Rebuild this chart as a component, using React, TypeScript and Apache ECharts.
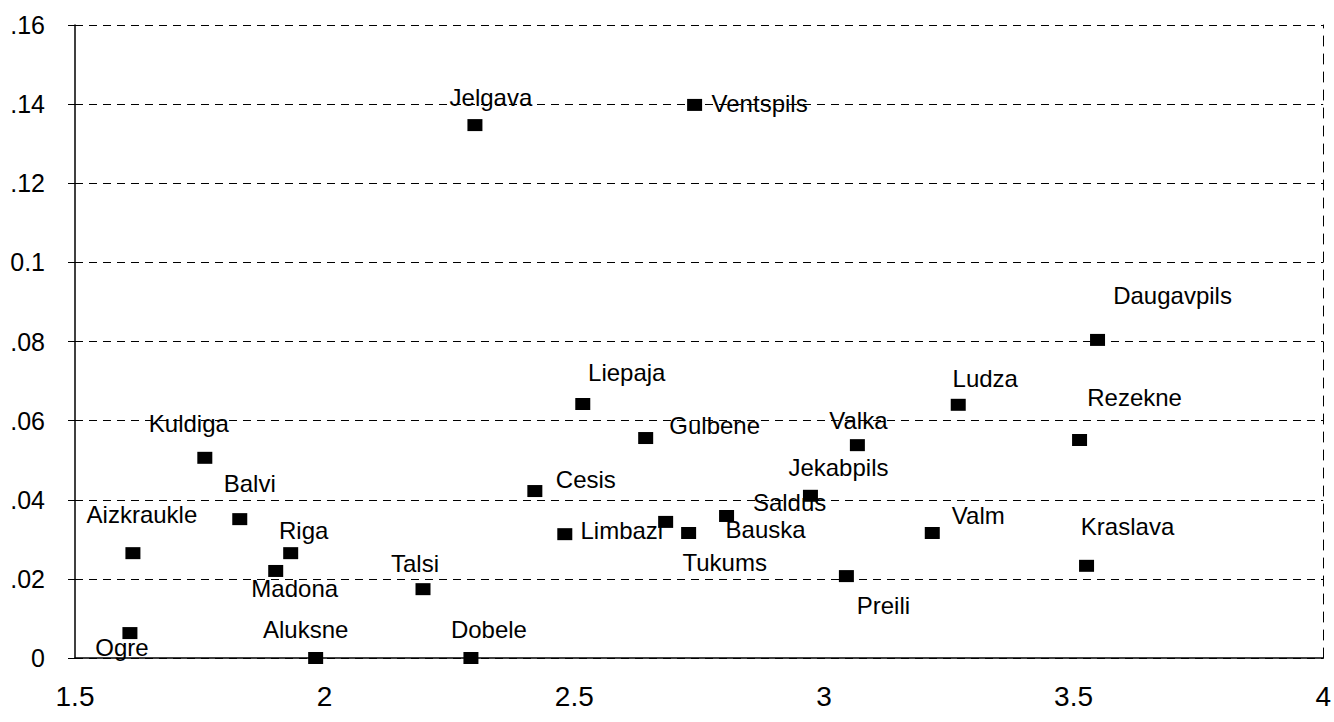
import React, { useEffect, useRef } from "react";
import * as echarts from "echarts";

const names = [
  "Jelgava", "Ventspils", "Daugavpils", "Liepaja", "Gulbene", "Valka", "Ludza", "Rezekne",
  "Kuldiga", "Balvi", "Aizkraukle", "Riga", "Madona", "Talsi", "Ogre", "Aluksne", "Dobele",
  "Cesis", "Limbazi", "Tukums", "Bauska", "Saldus", "Jekabpils", "Valm", "Preili", "Kraslava",
];
const xValues = [
  2.301, 2.741, 3.548, 2.517, 2.643, 3.067, 3.269, 3.512,
  1.760, 1.830, 1.616, 1.932, 1.902, 2.197, 1.610, 1.982, 2.293,
  2.421, 2.481, 2.683, 2.729, 2.805, 2.973, 3.217, 3.045, 3.526,
];
const yValues = [
  0.1347, 0.1398, 0.0804, 0.0642, 0.0556, 0.0538, 0.0640, 0.0551,
  0.0506, 0.0351, 0.0265, 0.0265, 0.0220, 0.0174, 0.0063, 0.0, 0.0,
  0.0422, 0.0313, 0.0344, 0.0316, 0.0359, 0.0410, 0.0316, 0.0207, 0.0233,
];
const xTicks = { min: 1.5, max: 4, interval: 0.5 };
const yTicks = { min: 0, max: 0.16, interval: 0.02 };

// label placement (pixel offsets from marker centre)
const labelOffsets: [number, number][] = [
  [16, -28], [65, -1], [75, -44], [44, -32], [69, -13], [1, -25], [27, -26], [55, -43],
  [-16, -34], [10, -36], [9, -39], [13, -23], [19, 18], [-8, -26], [-8, 14], [-10, -29], [18, -29],
  [51, -12], [57, -4], [59, 41], [77, -3], [63, -13], [28, -28], [46, -17], [37, 29], [41, -39],
];

const FONT = "'Liberation Sans', Arial, sans-serif";

export default function App() {
  const ref = useRef<HTMLDivElement>(null);
  useEffect(() => {
    if (!ref.current) return;
    const chart = echarts.init(ref.current, undefined, { renderer: "svg" });
    const data = names.map((n, i) => ({
      name: n,
      value: [xValues[i], yValues[i]],
    }));
    chart.setOption({
      animation: false,
      backgroundColor: "#fff",
      grid: { left: 75, right: 8, top: 25, bottom: 64, containLabel: false },
      xAxis: {
        type: "value",
        min: xTicks.min,
        max: xTicks.max,
        interval: xTicks.interval,
        axisLine: { show: true, onZero: false, lineStyle: { color: "#000", width: 1.5 } },
        axisTick: { show: false },
        splitLine: { show: false },
        axisLabel: {
          color: "#000",
          fontSize: 28,
          fontFamily: FONT,
          margin: 24,
          formatter: (v: number) => String(v),
        },
      },
      yAxis: [
        {
          type: "value",
          min: yTicks.min,
          max: yTicks.max,
          interval: yTicks.interval,
          axisLine: { show: true, onZero: false, lineStyle: { color: "#000", width: 1.5 } },
          axisTick: { show: true, inside: false, length: 7, lineStyle: { color: "#000" } },
          splitLine: { show: true, lineStyle: { color: "#000", type: [8, 6], width: 1 } },
          axisLabel: {
            color: "#000",
            fontSize: 25,
            fontFamily: FONT,
            margin: 30,
            formatter: (v: number) => {
              if (Math.abs(v) < 1e-9) return "0";
              if (Math.abs(v - 0.1) < 1e-9) return "0.1";
              return v.toFixed(2).replace(/^0/, "");
            },
          },
        },
        {
          type: "value",
          position: "right",
          min: yTicks.min,
          max: yTicks.max,
          interval: yTicks.interval,
          axisLine: { show: true, lineStyle: { color: "#000", type: [10, 8], width: 1 } },
          axisTick: { show: false },
          axisLabel: { show: false },
          splitLine: { show: false },
        },
      ],
      series: [
        {
          type: "scatter",
          symbol: "rect",
          symbolSize: [15, 12],
          itemStyle: { color: "#000", opacity: 1 },
          data,
          label: {
            show: true,
            position: "inside",
            align: "center",
            verticalAlign: "middle",
            formatter: "{b}",
            color: "#000",
            opacity: 1,
            fontSize: 24,
            fontFamily: FONT,
          },
          labelLayout: (params: any) => ({
            dx: labelOffsets[params.dataIndex][0],
            dy: labelOffsets[params.dataIndex][1],
            hideOverlap: false,
          }),
        },
      ],
    });
    return () => chart.dispose();
  }, []);
  return (
    <div
      ref={ref}
      style={{ position: "fixed", left: 0, top: 0, width: 1334, height: 722, background: "#fff" }}
    />
  );
}
